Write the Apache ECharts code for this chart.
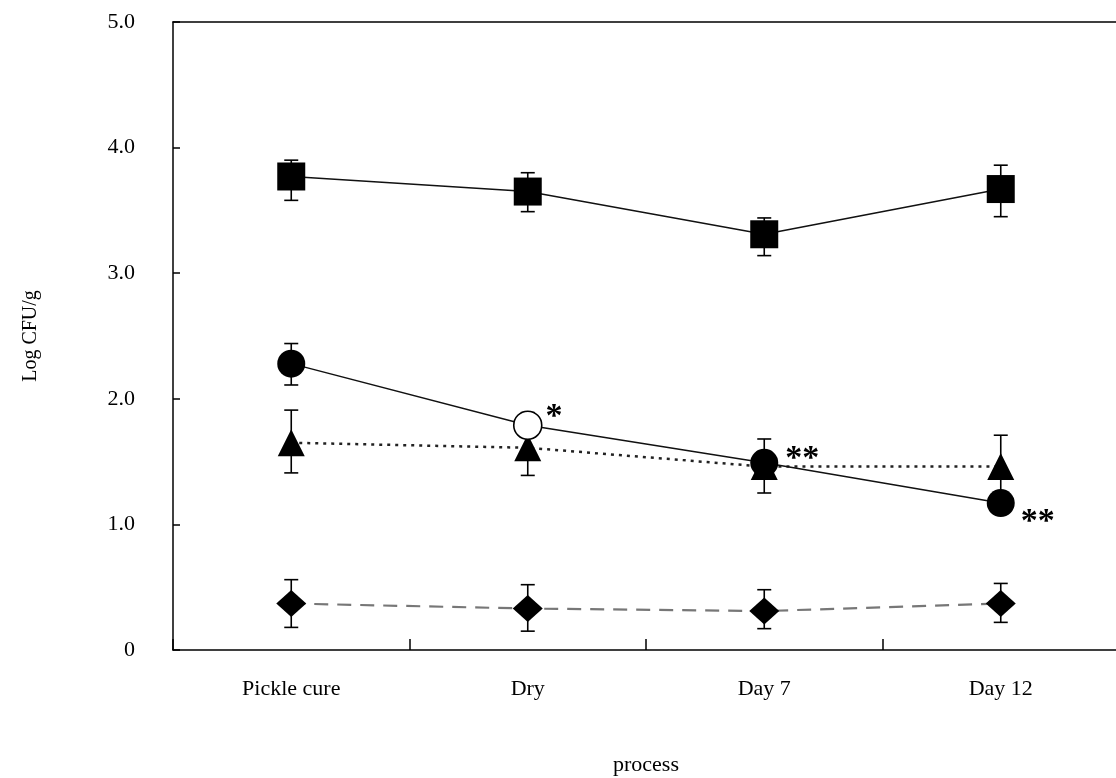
<!DOCTYPE html>
<html>
<head>
<meta charset="utf-8">
<script src="https://cdn.jsdelivr.net/npm/echarts@6/dist/echarts.min.js"></script>
<style>html,body{margin:0;padding:0;background:#fff;}#c{width:1116px;height:778px;}</style>
</head>
<body>
<div id="c"></div>
<script>
var categories = ['Pickle cure', 'Dry', 'Day 7', 'Day 12'];
var yTicks = ['0', '1.0', '2.0', '3.0', '4.0', '5.0'];

var squareMean = [3.77, 3.65, 3.31, 3.67];
var squareLow  = [3.58, 3.49, 3.14, 3.45];
var squareHigh = [3.90, 3.80, 3.44, 3.86];

var circleMean = [2.28, 1.79, 1.49, 1.17];
var circleLow  = [2.11, 1.70, 1.40, 1.10];
var circleHigh = [2.44, 1.89, 1.58, 1.24];

var triMean = [1.65, 1.61, 1.46, 1.46];
var triLow  = [1.41, 1.39, 1.25, 1.22];
var triHigh = [1.91, 1.80, 1.68, 1.71];

var diaMean = [0.37, 0.33, 0.31, 0.37];
var diaLow  = [0.18, 0.15, 0.17, 0.22];
var diaHigh = [0.56, 0.52, 0.48, 0.53];

var circleMarks = ['', '*', '**', '**'];

var FONT = '"Liberation Serif", "DejaVu Serif", serif';

function errData(low, high) {
  return low.map(function (l, i) { return [i, l, high[i]]; });
}

function errSeries(low, high) {
  return {
    type: 'custom',
    z: 1,
    silent: true,
    data: errData(low, high),
    encode: { x: 0, y: [1, 2] },
    renderItem: function (params, api) {
      var i = api.value(0);
      var lo = api.coord([i, api.value(1)]);
      var hi = api.coord([i, api.value(2)]);
      var w = 7;
      var st = { stroke: '#000', lineWidth: 1.6 };
      return {
        type: 'group',
        children: [
          { type: 'line', shape: { x1: lo[0], y1: lo[1], x2: hi[0], y2: hi[1] }, style: st },
          { type: 'line', shape: { x1: lo[0] - w, y1: lo[1], x2: lo[0] + w, y2: lo[1] }, style: st },
          { type: 'line', shape: { x1: hi[0] - w, y1: hi[1], x2: hi[0] + w, y2: hi[1] }, style: st }
        ]
      };
    }
  };
}

var markOffsets = [[0, 0], [-5, -8], [-1, -4], [-2, 19]];

var circleData = circleMean.map(function (v, i) {
  var item = {
    value: v,
    label: {
      show: circleMarks[i] !== '',
      formatter: circleMarks[i],
      position: 'right',
      distance: 8,
      offset: markOffsets[i],
      fontFamily: FONT,
      fontSize: 34,
      fontWeight: 'bold',
      color: '#000'
    }
  };
  if (i === 1) {
    item.itemStyle = { color: '#fff', borderColor: '#000', borderWidth: 1.6 };
  }
  return item;
});

var chart = echarts.init(document.getElementById('c'));
chart.setOption({
  animation: false,
  backgroundColor: '#fff',
  grid: { left: 173, top: 22, right: -3, bottom: 128, outerBoundsMode: 'none', containLabel: false },
  xAxis: [{
    type: 'category',
    data: categories,
    boundaryGap: true,
    name: 'process',
    nameLocation: 'middle',
    nameGap: 104,
    nameTextStyle: { fontFamily: FONT, fontSize: 22, color: '#000' },
    axisLine: { lineStyle: { color: '#000', width: 1.5 } },
    axisTick: { show: true, inside: true, length: 11, alignWithLabel: false, lineStyle: { color: '#000', width: 1.5 } },
    axisLabel: { fontFamily: FONT, fontSize: 22, color: '#000', margin: 28 },
    splitLine: { show: false }
  }, {
    type: 'category',
    data: categories,
    position: 'top',
    axisLine: { show: true, lineStyle: { color: '#000', width: 1.5 } },
    axisTick: { show: false },
    axisLabel: { show: false },
    splitLine: { show: false }
  }],
  yAxis: {
    type: 'value',
    min: 0,
    max: 5,
    interval: 1,
    name: 'Log CFU/g',
    nameLocation: 'middle',
    nameGap: 132,
    nameRotate: 90,
    nameTextStyle: { fontFamily: FONT, fontSize: 20, color: '#000' },
    axisLine: { show: true, lineStyle: { color: '#000', width: 1.5 } },
    axisTick: { show: true, inside: true, length: 7, lineStyle: { color: '#000', width: 1.5 } },
    axisLabel: {
      fontFamily: FONT, fontSize: 22, color: '#000', margin: 38,
      formatter: function (v) { return yTicks[Math.round(v)]; }
    },
    splitLine: { show: false }
  },
  series: [
    errSeries(squareLow, squareHigh),
    errSeries(circleLow, circleHigh),
    errSeries(triLow, triHigh),
    errSeries(diaLow, diaHigh),
    {
      type: 'line', z: 3, data: diaMean, symbol: 'diamond', symbolSize: [30, 27],
      itemStyle: { color: '#000' },
      lineStyle: { color: '#777', width: 2.2, type: [14, 9] }
    },
    {
      type: 'line', z: 4, data: triMean, symbol: 'triangle', symbolSize: [27, 27],
      itemStyle: { color: '#000' },
      lineStyle: { color: '#222', width: 2.5, type: [3, 5] }
    },
    {
      type: 'line', z: 5, data: circleData, symbol: 'circle', symbolSize: 28,
      itemStyle: { color: '#000' },
      lineStyle: { color: '#111', width: 1.5 }
    },
    {
      type: 'line', z: 5, data: squareMean, symbol: 'rect', symbolSize: 28,
      itemStyle: { color: '#000' },
      lineStyle: { color: '#111', width: 1.5 }
    }
  ]
});
</script>
</body>
</html>
